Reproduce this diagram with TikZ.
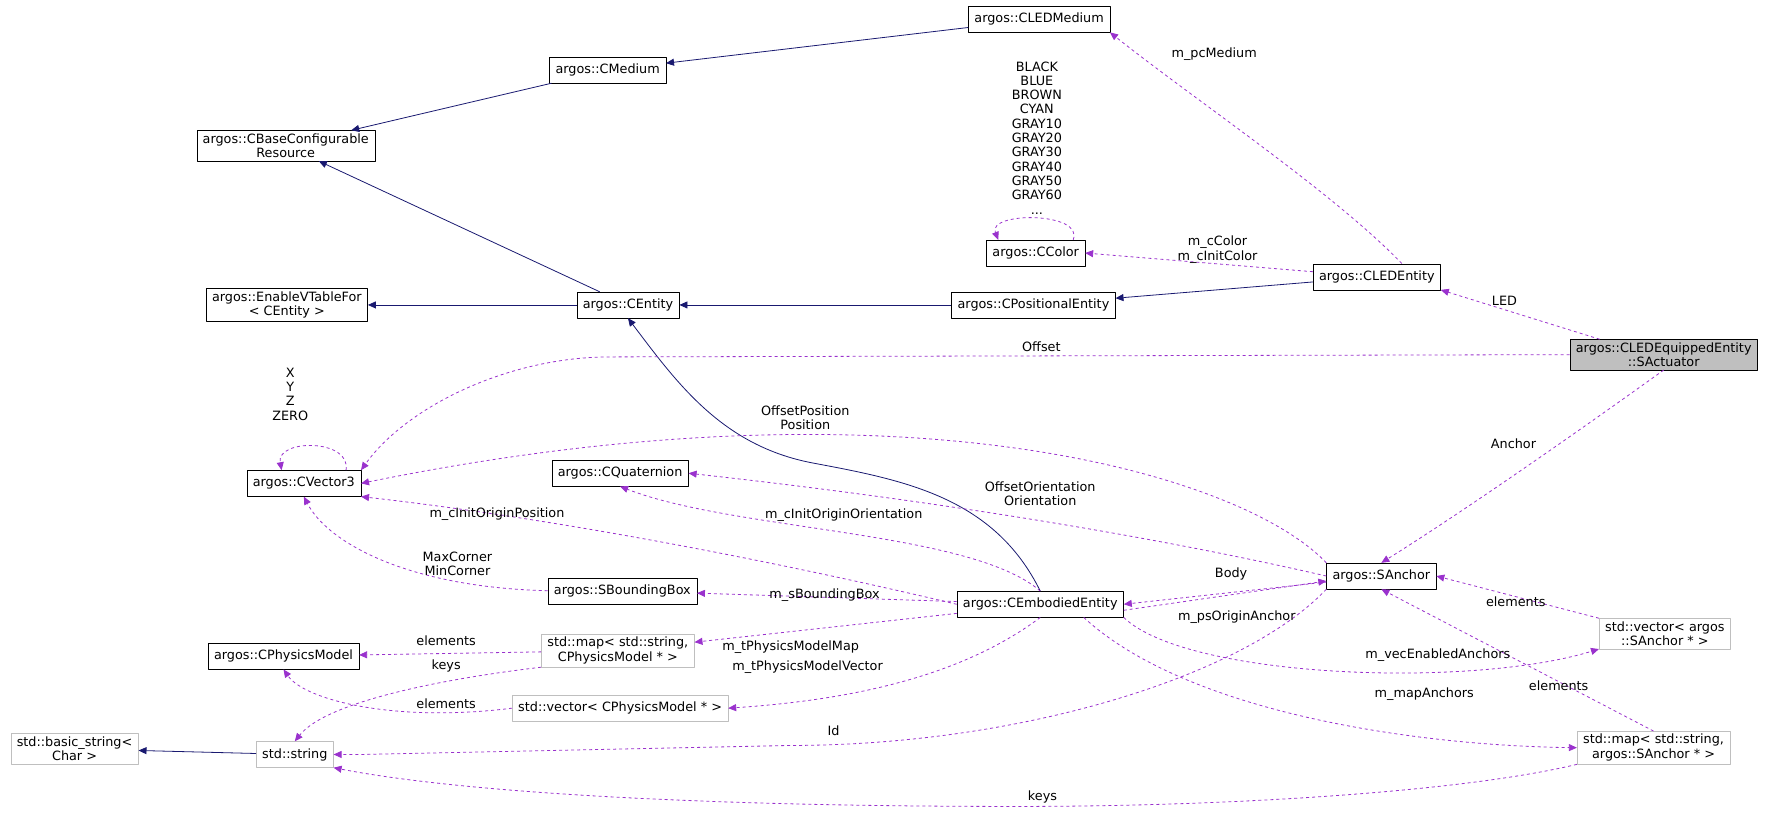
\documentclass[tikz,border=0pt]{standalone}
\usepackage{fontspec}
\setmainfont{DejaVu Sans}
\usetikzlibrary{arrows.meta}
\definecolor{inhcol}{HTML}{191970}
\definecolor{usecol}{HTML}{9A32CD}
\definecolor{boxgray}{HTML}{BFBFBF}
\tikzset{
  cls/.style={draw=black,fill=white,inner xsep=6pt,inner ysep=3pt,minimum height=26pt,align=center,font=\fontsize{12.8}{14.5}\selectfont},
  tpl/.style={cls,draw=boxgray},
  inh/.style={draw=inhcol,thick,{Triangle[length=8pt,width=7pt]}-},
  use/.style={draw=usecol,thick,dashed,-{Triangle[length=8pt,width=7pt]}},
  lbl/.style={align=center,inner sep=0pt,font=\fontsize{12.8}{14.5}\selectfont}
}
\begin{document}
\begin{tikzpicture}[x=1.1295pt,y=-1.1295pt,line join=round]
  \useasboundingbox (0,0) rectangle (1568,720);
  % classes
  \node[cls] (LEDMedium) at (920,17) {argos::CLEDMedium};
  \node[cls] (Medium) at (538,62) {argos::CMedium};
  \node[cls] (BaseConf) at (253,129) {argos::CBaseConfigurable\\Resource};
  \node[cls] (VTable) at (254,270) {argos::EnableVTableFor\\< CEntity >};
  \node[cls] (Entity) at (556,270) {argos::CEntity};
  \node[cls] (PosEntity) at (915,270) {argos::CPositionalEntity};
  \node[cls] (LEDEntity) at (1219,245) {argos::CLEDEntity};
  \node[cls] (Color) at (917,224) {argos::CColor};
  \node[cls,fill=boxgray] (Actuator) at (1473,314) {argos::CLEDEquippedEntity\\::SActuator};
  \node[cls] (Vector3) at (269,428) {argos::CVector3};
  \node[cls] (Quat) at (549,419) {argos::CQuaternion};
  \node[cls] (BBox) at (551,523) {argos::SBoundingBox};
  \node[cls] (EmbEntity) at (921,535) {argos::CEmbodiedEntity};
  \node[cls] (Anchor) at (1223,510) {argos::SAnchor};
  \node[cls] (PhysModel) at (251,581) {argos::CPhysicsModel};
  \node[tpl] (MapPM) at (547,576) {std::map< std::string,\\CPhysicsModel * >};
  \node[tpl] (VecPM) at (549,627) {std::vector< CPhysicsModel * >};
  \node[tpl] (VecAnchor) at (1474,561) {std::vector< argos\\::SAnchor * >};
  \node[tpl] (BasicStr) at (66,663) {std::basic\_string<\\Char >};
  \node[tpl] (String) at (261,668) {std::string};
  \node[tpl] (MapAnchor) at (1464,662) {std::map< std::string,\\argos::SAnchor * >};
  % inheritance
  \draw[inh] (Medium) -- (LEDMedium);
  \draw[inh] (BaseConf) -- (Medium);
  \draw[inh] (BaseConf) -- (Entity);
  \draw[inh] (VTable) -- (Entity);
  \draw[inh] (Entity) -- (PosEntity);
  \draw[inh] (PosEntity) -- (LEDEntity);
  \draw[inh] (Entity.south) .. controls (600,340) and (640,395) .. (720,410)
    .. controls (800,425) and (880,440) .. (EmbEntity.north);
  \draw[inh] (BasicStr) -- (String);
  % usage
  \draw[use] ([xshift=25pt]LEDEntity.north) .. controls (1180,170) and (1060,90) .. (LEDMedium.south east);
  \draw[use] ([yshift=5pt]LEDEntity.west) -- (Color.east);
  \draw[use] ([xshift=-12pt]Color.north east) .. controls +(10,-25) and +(-10,-25) .. ([xshift=12pt]Color.north west);
  \draw[use] ([xshift=30pt]Actuator.north west) -- (LEDEntity.south east);
  \draw[use] (Actuator.west) -- (540,316) .. controls (450,316) and (360,360) .. (Vector3.north east);
  \draw[use] (Actuator.south) .. controls (1400,380) and (1300,450) .. (Anchor.north);
  \draw[use] ([xshift=-15pt]Vector3.north east) .. controls +(5,-28) and +(-5,-28) .. ([xshift=35pt]Vector3.north west);
  \draw[use] (Anchor.north west) .. controls (1100,420) and (800,330) .. (Vector3.east);
  \draw[use] (Anchor.west) .. controls (1000,470) and (800,440) .. (Quat.east);
  \draw[use] (EmbEntity.north) .. controls (860,470) and (650,470) .. (Quat.south);
  \draw[use] (EmbEntity.west) .. controls (700,500) and (500,460) .. (Vector3.south east);
  \draw[use] (BBox.west) .. controls (360,520) and (290,480) .. (Vector3.south);
  \draw[use] (EmbEntity) -- (BBox);
  \draw[use] (Anchor) -- (EmbEntity.east);
  \draw[use] ([yshift=-6pt]EmbEntity.east) -- ([yshift=-5pt]Anchor.west);
  \draw[use] (EmbEntity) -- (MapPM);
  \draw[use] (EmbEntity.south) .. controls (850,600) and (750,620) .. (VecPM.east);
  \draw[use] (EmbEntity.south east) .. controls (1050,600) and (1300,610) .. (VecAnchor.south west);
  \draw[use] ([xshift=-40pt]EmbEntity.south east) .. controls (1050,630) and (1250,660) .. (MapAnchor.west);
  \draw[use] (MapPM) -- (PhysModel);
  \draw[use] (MapPM.south west) .. controls (400,600) and (290,620) .. (String.north);
  \draw[use] (VecPM.west) .. controls (350,640) and (270,620) .. (PhysModel.south);
  \draw[use] (Anchor.south west) .. controls (1100,600) and (900,660) .. (700,660) -- (320,668) -- (String.east);
  \draw[use] (VecAnchor.north west) -- (Anchor.east);
  \draw[use] (MapAnchor.north) -- (Anchor.south);
  \draw[use] (MapAnchor.south west) .. controls (1300,700) and (1100,714) .. (900,714)
    .. controls (600,714) and (400,700) .. (String.south east);
  % labels
  \node[lbl] (lMed) at (1075,48) {m\_pcMedium};
  \node[lbl] (lColor) at (1078,221) {m\_cColor\\m\_cInitColor};
  \node[lbl,font=\fontsize{12.8}{14.3}\selectfont] (lColors) at (918,122) {BLACK\\BLUE\\BROWN\\CYAN\\GRAY10\\GRAY20\\GRAY30\\GRAY40\\GRAY50\\GRAY60\\...};
  \node[lbl] (lLED) at (1332,266) {LED};
  \node[lbl] (lOffset) at (922,307) {Offset};
  \node[lbl] (lAnch) at (1340,393) {Anchor};
  \node[lbl,font=\fontsize{12.8}{14.3}\selectfont] (lXYZ) at (257,349) {X\\Y\\Z\\ZERO};
  \node[lbl] (lOffPos) at (713,370) {OffsetPosition\\Position};
  \node[lbl] (lOffOri) at (921,437) {OffsetOrientation\\Orientation};
  \node[lbl] (lIOO) at (747,456) {m\_cInitOriginOrientation};
  \node[lbl] (lIOP) at (440,455) {m\_cInitOriginPosition};
  \node[lbl] (lMinMax) at (405,499) {MaxCorner\\MinCorner};
  \node[lbl] (lBB) at (730,527) {m\_sBoundingBox};
  \node[lbl] (lBody) at (1090,508) {Body};
  \node[lbl] (lOrig) at (1095,546) {m\_psOriginAnchor};
  \node[lbl] (lPMM) at (700,573) {m\_tPhysicsModelMap};
  \node[lbl] (lPMV) at (715,591) {m\_tPhysicsModelVector};
  \node[lbl] (lVEA) at (1273,580) {m\_vecEnabledAnchors};
  \node[lbl] (lMA) at (1261,615) {m\_mapAnchors};
  \node[lbl] (lEl1) at (395,567) {elements};
  \node[lbl] (lKeys1) at (395,590) {keys};
  \node[lbl] (lEl2) at (395,623) {elements};
  \node[lbl] (lId) at (738,647) {Id};
  \node[lbl] (lEl3) at (1342,533) {elements};
  \node[lbl] (lEl4) at (1380,607) {elements};
  \node[lbl] (lKeys2) at (923,706) {keys};
\end{tikzpicture}
\end{document}
